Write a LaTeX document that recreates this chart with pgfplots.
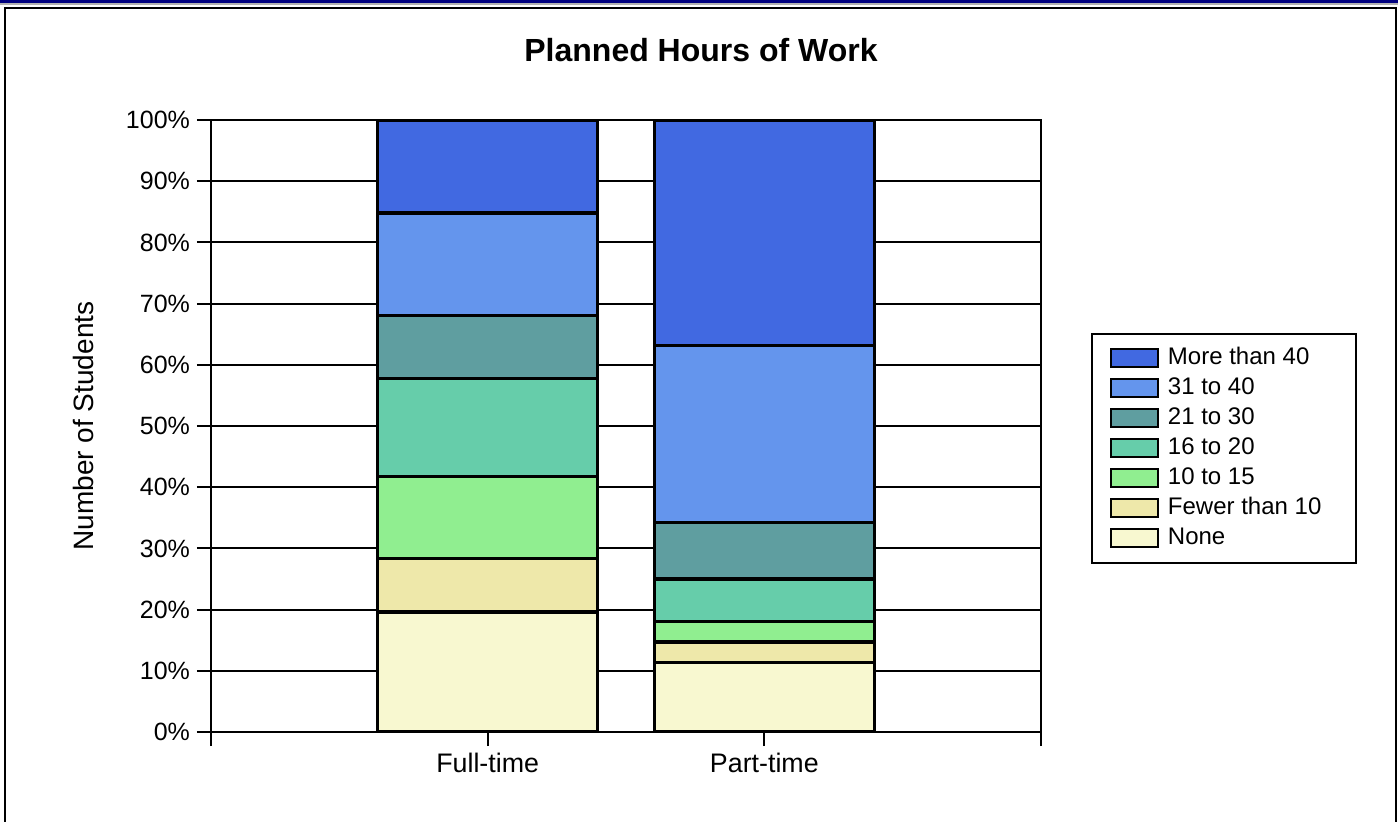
\documentclass[border=0pt]{standalone}
\usepackage{pgfplots}
\pgfplotsset{compat=1.18}
\usepackage{fontspec}
\setmainfont{Liberation Sans}
\definecolor{c1}{RGB}{65,105,225}
\definecolor{c2}{RGB}{100,149,237}
\definecolor{c3}{RGB}{95,158,160}
\definecolor{c4}{RGB}{102,205,170}
\definecolor{c5}{RGB}{144,238,144}
\definecolor{c6}{RGB}{238,232,170}
\definecolor{c7}{RGB}{248,248,208}
\definecolor{navyb}{RGB}{0,0,128}
\pgfplotsset{
  seg/.style={fill=#1, draw=black, line width=1.6pt,
    legend image code/.code={\draw[fill=#1,draw=black,line width=1pt] (0pt,-4.5pt) rectangle (23.5pt,4.5pt);}},
}
\begin{document}
\begin{tikzpicture}
\path[use as bounding box] (0,0) rectangle (699pt,410.5pt);
\fill[navyb] (0,409.2pt) rectangle (699pt,410.5pt);
\draw[gray!60,line width=0.6pt] (0,408.5pt) -- (699pt,408.5pt);
\draw[line width=1pt] (2.5pt,-5pt) -- (2.5pt,406.7pt) -- (698.2pt,406.7pt) -- (698.2pt,-5pt);
\node[font={\fontsize{16}{19}\selectfont\bfseries}] at (350.5pt,385.5pt) {Planned Hours of Work};
\begin{axis}[
  at={(105.5pt,44.5pt)}, anchor=south west,
  scale only axis, width=415pt, height=306pt,
  ybar stacked, bar width=0.794,
  xmin=-1, xmax=2, ymin=0, ymax=100,
  xtick={-1,0,1,2}, xticklabels={,Full-time,Part-time,},
  ytick={0,10,...,100},
  yticklabel={\pgfmathprintnumber{\tick}\%},
  /pgf/number format/assume math mode=true,
  tick align=outside, major tick length=7pt,
  xtick pos=bottom, ytick pos=left,
  tick style={line width=1pt, black},
  ymajorgrids, grid style={line width=1pt, black},
  axis line style={line width=1pt},
  yticklabel style={font={\fontsize{12.5}{15}\selectfont}},
  xticklabel style={font={\fontsize{13.4}{16}\selectfont}},
  ylabel={Number of Students},
  ylabel style={font={\fontsize{14}{17}\selectfont}, at={(axis description cs:-0.1542,0.5)}, anchor=center},
  reverse legend,
  legend style={at={(axis description cs:1.0602,0.6520)}, anchor=north west,
    draw=black, line width=1pt, inner xsep=9pt, inner ysep=6.5pt,
    font={\fontsize{12}{14}\selectfont},
    nodes={inner sep=0pt, text height=9pt, text depth=2.5pt, anchor=west},
    row sep=3.5pt, column sep=4.5pt},
  legend cell align=left,
]
\addplot[seg=c7] coordinates {(0,19.6) (1,11.4)};
\addplot[seg=c6] coordinates {(0,8.7) (1,3.3)};
\addplot[seg=c5] coordinates {(0,13.4) (1,3.4)};
\addplot[seg=c4] coordinates {(0,16.1) (1,6.9)};
\addplot[seg=c3] coordinates {(0,10.2) (1,9.2)};
\addplot[seg=c2] coordinates {(0,16.8) (1,29.0)};
\addplot[seg=c1] coordinates {(0,15.2) (1,36.8)};
\legend{\makebox[85pt][l]{None},Fewer than 10,10 to 15,16 to 20,21 to 30,31 to 40,More than 40}
\end{axis}
\end{tikzpicture}
\end{document}
